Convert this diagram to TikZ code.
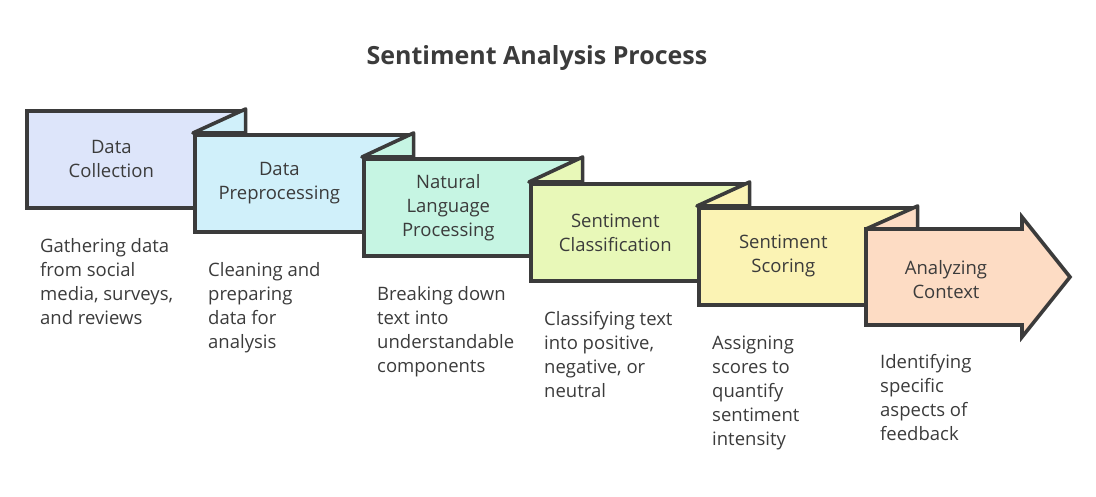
\documentclass[tikz,border=0pt]{standalone}
\usepackage{fontspec}
\setmainfont{Open Sans}
\usetikzlibrary{positioning}

\definecolor{inkgray}{HTML}{3B3B3B}
\definecolor{collectfill}{HTML}{DDE5FA}
\definecolor{prepfill}{HTML}{D0F0FA}
\definecolor{nlpfill}{HTML}{C6F5E3}
\definecolor{classfill}{HTML}{E8F8B8}
\definecolor{scorefill}{HTML}{FBF3B4}
\definecolor{contextfill}{HTML}{FDDCC4}

\begin{document}
\begin{tikzpicture}[x=1pt, y=-1pt,
  stepbox/.style={draw=inkgray, line width=3.6pt, minimum width=217pt, minimum height=97pt,
    anchor=north west, inner sep=0pt},
  flap/.style={draw=inkgray, line width=3.6pt, line join=round},
  steplabel/.style={align=center, text=inkgray, font=\fontsize{18.5}{24}\selectfont},
  desc/.style={align=left, anchor=north west, inner sep=0pt, text=inkgray,
    font=\fontsize{18.5}{24}\selectfont},
]
  \useasboundingbox (0,0) rectangle (1096,496);

  \node[text=inkgray, font=\fontsize{25}{28}\selectfont\bfseries] (title) at (537,58) {Sentiment Analysis Process};

  % steps, each one sits on the previous
  \node[stepbox, fill=collectfill] (b1) at (25,109) {};
  \node[stepbox, fill=prepfill] (b2) at (193,133) {};
  \node[stepbox, fill=nlpfill] (b3) at (362,157) {};
  \node[stepbox, fill=classfill] (b4) at (529,182) {};
  \node[stepbox, fill=scorefill] (b5) at (697,206) {};
  \coordinate (b6) at (866,229);
  \coordinate (b6sw) at (866,325);
  \draw[flap, line join=miter, fill=contextfill] (b6) -- (1022,229) -- (1022,217) -- (1070,277)
    -- (1022,337) -- (1022,325) -- (b6sw) -- cycle;

  % folds
  \draw[flap, fill=prepfill] (b1.north east) -- (b2.north west) -- (b1.north east |- b2.north) -- cycle;
  \draw[flap, fill=nlpfill] (b2.north east) -- (b3.north west) -- (b2.north east |- b3.north) -- cycle;
  \draw[flap, fill=classfill] (b3.north east) -- (b4.north west) -- (b3.north east |- b4.north) -- cycle;
  \draw[flap, fill=scorefill] (b4.north east) -- (b5.north west) -- (b4.north east |- b5.north) -- cycle;
  \draw[flap, fill=contextfill] (b5.north east) -- (b6) -- (b5.north east |- b6) -- cycle;

  \node[steplabel] (l1) at ([xshift=-24pt]b1.center) {Data\\Collection};
  \node[steplabel] (l2) at ([xshift=-24pt]b2.center) {Data\\Preprocessing};
  \node[steplabel] (l3) at ([xshift=-24pt]b3.center) {Natural\\Language\\Processing};
  \node[steplabel] (l4) at ([xshift=-24pt]b4.center) {Sentiment\\Classification};
  \node[steplabel] (l5) at ([xshift=-24pt]b5.center) {Sentiment\\Scoring};
  \node[steplabel] (l6) at (946,280) {Analyzing\\Context};

  \node[desc, below right=29pt and 15pt of b1.south west] (d1) {Gathering data\\from social\\media, surveys,\\and reviews};
  \node[desc, below right=29pt and 15pt of b2.south west] (d2) {Cleaning and\\preparing\\data for\\analysis};
  \node[desc, below right=29pt and 15pt of b3.south west] (d3) {Breaking down\\text into\\understandable\\components};
  \node[desc, below right=29pt and 15pt of b4.south west] (d4) {Classifying text\\into positive,\\negative, or\\neutral};
  \node[desc, below right=29pt and 15pt of b5.south west] (d5) {Assigning\\scores to\\quantify\\sentiment\\intensity};
  \node[desc, below right=29pt and 14pt of b6sw] (d6) {Identifying\\specific\\aspects of\\feedback};
\end{tikzpicture}
\end{document}
